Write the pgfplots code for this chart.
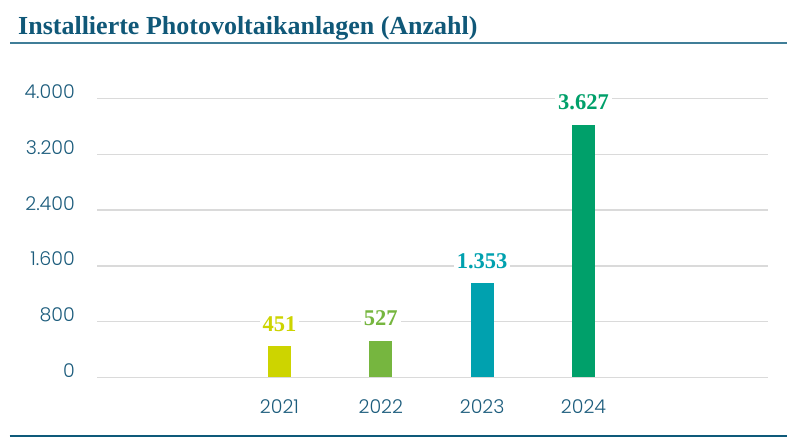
\documentclass[border=0pt]{standalone}
\usepackage{fontspec}
\setmainfont{Liberation Serif}
\newfontfamily\tickfont{Poppins}[UprightFont=* Light]
\usepackage{pgfplots}
\pgfplotsset{compat=1.18}

\definecolor{titleblue}{RGB}{16,88,120}
\definecolor{tickblue}{RGB}{28,92,124}
\definecolor{rulelight}{RGB}{64,126,152}
\definecolor{ruledark}{RGB}{14,90,122}
\definecolor{gridgray}{RGB}{218,218,218}
\definecolor{cA}{RGB}{205,212,0}
\definecolor{cB}{RGB}{118,182,63}
\definecolor{cC}{RGB}{0,161,175}
\definecolor{cD}{RGB}{0,160,106}

\begin{document}
\begin{tikzpicture}[x=1bp,y=1bp]
  % page frame 796 x 446
  \useasboundingbox (0,0) rectangle (796,446);
  \node[anchor=base west, inner sep=0, text=titleblue,
        font=\fontsize{26bp}{30bp}\selectfont\bfseries] at (18,411)
    {Installierte Photovoltaikanlagen (Anzahl)};
  \draw[rulelight, line width=2bp] (10,403.3) -- (786.5,403.3);
  \draw[ruledark, line width=2bp] (9.5,10) -- (786.5,10);

  \begin{axis}[
      at={(97bp,68.5bp)}, anchor=south west,
      scale only axis,
      width=671bp, height=279bp,
      ybar, bar width=23bp, bar shift=0pt,
      xmin=-1.80, xmax=4.82,
      ymin=0, ymax=4000,
      ytick={0,800,1600,2400,3200,4000},
      xtick={0,1,2,3},
      xticklabels={2021,2022,2023,2024},
      axis line style={draw=none},
      major tick style={draw=none},
      ymajorgrids,
      major grid style={gridgray, line width=1.3bp},
      /pgf/number format/.cd, 1000 sep={.}, assume math mode=true, /tikz/.cd,
      tick label style={font=\tickfont\fontsize{19bp}{22bp}\selectfont, text=tickblue, inner sep=0pt},
      yticklabel style={anchor=base east, xshift=-22bp},
      xticklabel style={anchor=base, yshift=-32bp},
      clip=false,
      nodes near coords={\pgfmathprintnumber[1000 sep={.}]{\pgfplotspointmeta}},
      every node near coord/.append style={anchor=base, yshift=15bp,
        font=\fontsize{22.5bp}{26bp}\selectfont\bfseries,
        fill=white, inner xsep=3bp, inner ysep=1bp},
    ]
    \addplot[fill=cA, draw=none, nodes near coords style={text=cA}] coordinates {(0,451)};
    \addplot[fill=cB, draw=none, nodes near coords style={text=cB}] coordinates {(1,527)};
    \addplot[fill=cC, draw=none, nodes near coords style={text=cC}] coordinates {(2,1353)};
    \addplot[fill=cD, draw=none, nodes near coords style={text=cD}] coordinates {(3,3627)};
  \end{axis}
\end{tikzpicture}
\end{document}
